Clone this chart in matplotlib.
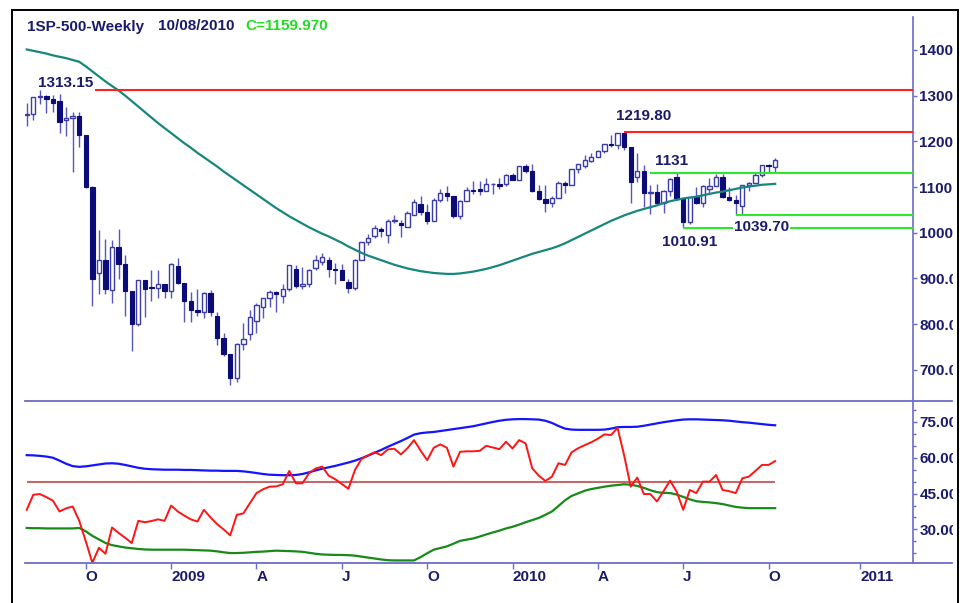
import matplotlib
matplotlib.use("Agg")
import matplotlib.pyplot as plt
from matplotlib.lines import Line2D
from matplotlib.patches import Rectangle
from matplotlib.ticker import FixedLocator, MultipleLocator, FormatStrFormatter
import numpy as np
import pandas as pd

plt.rcParams['font.family'] = ['Liberation Sans', 'DejaVu Sans']
plt.rcParams['font.weight'] = 'bold'

# weekly bars, week ending Fridays, first bar 2008-08-01
first_week = '2008-08-01'

opens = [1257.8, 1260.3, 1296.3, 1298.2, 1292.2, 1287.8, 1246.0, 1251.7, 1255.1, 1213.3,
         1099.2, 912.8, 940.6, 874.3, 968.8, 931.0, 873.3, 800.0, 896.2, 882.0,
         879.7, 887.9, 872.8, 927.5, 890.4, 850.1, 832.0, 825.9, 868.6, 818.0,
         770.1, 735.1, 683.4, 756.6, 778.0, 806.0, 838.0, 856.6, 869.6, 862.0,
         877.5, 920.0, 882.9, 887.0, 923.0, 937.0, 940.0, 921.2, 919.0, 893.0,
         879.1, 940.4, 979.3, 992.0, 1008.0, 995.0, 1026.1, 1022.0, 1013.0, 1039.0,
         1062.0, 1044.4, 1025.2, 1071.5, 1088.0, 1079.6, 1036.2, 1069.3, 1093.5, 1095.0,
         1091.5, 1106.0, 1106.4, 1106.0, 1126.5, 1115.1, 1145.0, 1136.0, 1091.8, 1073.9,
         1066.2, 1075.5, 1109.2, 1104.5, 1138.7, 1147.0, 1156.0, 1165.0, 1178.1, 1194.4,
         1192.1, 1217.3, 1186.7, 1121.0, 1135.7, 1087.7, 1089.4, 1064.9, 1091.6, 1121.0,
         1076.8, 1022.6, 1078.0, 1064.9, 1095.0, 1101.6, 1121.6, 1079.3, 1071.7, 1058.0,
         1104.5, 1109.6, 1125.6, 1148.7, 1144.0]

highs = [1284.0, 1297.0, 1313.2, 1300.7, 1300.7, 1303.0, 1274.4, 1265.0, 1264.0, 1213.3,
         1102.0, 1006.9, 985.4, 984.4, 1007.5, 951.4, 873.3, 896.3, 896.2, 918.9,
         918.9, 887.9, 934.7, 943.9, 890.4, 871.2, 877.9, 870.8, 875.0, 826.8,
         780.1, 735.1, 758.3, 803.0, 832.0, 845.6, 858.4, 875.6, 871.8, 888.7,
         930.2, 930.2, 924.6, 920.0, 951.7, 956.2, 946.2, 934.9, 931.9, 898.7,
         943.0, 979.4, 996.7, 1018.0, 1013.1, 1029.6, 1039.5, 1028.9, 1048.2, 1074.8,
         1080.2, 1063.4, 1076.6, 1096.6, 1101.4, 1081.0, 1072.0, 1101.2, 1113.7, 1112.4,
         1119.1, 1107.8, 1119.1, 1129.2, 1130.4, 1145.4, 1150.4, 1150.5, 1103.7, 1104.7,
         1080.0, 1112.4, 1112.4, 1139.0, 1150.0, 1169.2, 1174.9, 1181.4, 1194.7, 1213.9,
         1217.3, 1219.8, 1188.6, 1173.6, 1148.7, 1104.0, 1105.7, 1094.6, 1119.0, 1131.2,
         1076.8, 1078.2, 1099.1, 1103.7, 1120.9, 1128.8, 1129.2, 1100.1, 1081.6, 1105.1,
         1110.9, 1131.5, 1148.9, 1151.4, 1163.0]

lows = [1234.4, 1247.3, 1282.7, 1261.0, 1263.8, 1217.2, 1212.1, 1133.5, 1187.0, 1098.0,
        839.8, 865.8, 865.6, 845.3, 899.7, 818.7, 741.0, 797.0, 815.7, 851.4,
        857.0, 857.1, 857.3, 888.3, 804.3, 804.3, 818.3, 812.8, 818.4, 754.1,
        731.4, 666.8, 672.9, 742.8, 764.9, 779.8, 814.5, 836.9, 826.8, 847.1,
        872.8, 878.9, 876.8, 880.3, 919.1, 929.1, 903.8, 888.9, 896.4, 869.3,
        875.3, 940.4, 972.2, 987.5, 990.0, 978.5, 1021.0, 991.0, 1013.0, 1039.0,
        1039.3, 1020.2, 1025.2, 1066.7, 1070.5, 1033.4, 1029.4, 1069.3, 1085.0, 1083.7,
        1091.5, 1085.9, 1095.8, 1102.5, 1114.8, 1115.1, 1131.4, 1090.2, 1071.6, 1044.5,
        1056.5, 1075.5, 1086.0, 1104.5, 1131.4, 1141.2, 1155.0, 1165.0, 1175.5, 1186.8,
        1183.7, 1181.6, 1065.8, 1110.0, 1055.9, 1040.8, 1060.0, 1042.2, 1081.0, 1071.6,
        1010.9, 1018.4, 1063.3, 1056.9, 1088.0, 1101.6, 1076.6, 1069.4, 1039.7, 1040.9,
        1091.2, 1109.6, 1122.8, 1131.9, 1131.0]

closes = [1260.3, 1296.3, 1298.2, 1292.2, 1282.8, 1242.3, 1251.7, 1255.1, 1213.3, 1099.2,
          899.2, 940.6, 876.8, 968.8, 931.0, 873.3, 800.0, 896.2, 876.1, 879.7,
          887.9, 872.8, 931.8, 890.4, 850.1, 832.0, 825.9, 868.6, 826.8, 770.1,
          735.1, 683.4, 756.6, 768.5, 815.9, 842.5, 856.6, 869.6, 866.2, 877.5,
          929.2, 882.9, 887.0, 919.1, 940.1, 946.2, 921.2, 918.9, 896.4, 879.1,
          940.4, 979.3, 987.5, 1010.5, 1004.1, 1026.1, 1028.9, 1016.4, 1042.7, 1068.3,
          1044.4, 1025.2, 1071.5, 1087.7, 1079.6, 1036.2, 1069.3, 1093.5, 1091.4, 1091.5,
          1106.0, 1106.4, 1102.5, 1126.5, 1115.1, 1145.0, 1136.0, 1091.8, 1073.9, 1066.2,
          1075.5, 1109.2, 1104.5, 1138.7, 1150.0, 1159.9, 1166.6, 1178.1, 1194.4, 1192.1,
          1217.3, 1186.7, 1110.9, 1135.7, 1087.7, 1089.4, 1064.9, 1091.6, 1117.5, 1076.8,
          1022.6, 1078.0, 1064.9, 1102.7, 1101.6, 1121.6, 1079.3, 1071.7, 1064.6, 1104.5,
          1109.6, 1125.6, 1148.7, 1146.2, 1159.97]

# long moving average drawn over the candles
mov_avg = [1401, 1398, 1395, 1392, 1388, 1385, 1382, 1378, 1374, 1364,
           1353, 1342, 1331, 1321, 1311, 1300, 1288, 1276, 1264, 1252,
           1240, 1229, 1218, 1207, 1196, 1186, 1175, 1165, 1155, 1145,
           1134, 1124, 1114, 1104, 1094, 1084, 1074, 1064, 1054, 1045,
           1036, 1028, 1020, 1012, 1005, 998, 992, 985, 978, 970,
           963, 956, 950, 945, 940, 935, 930, 926, 922, 919,
           916, 914, 912, 911, 910, 910, 911, 913, 915, 918,
           921, 925, 929, 934, 939, 944, 949, 954, 958, 962,
           966, 971, 977, 984, 991, 998, 1005, 1012, 1019, 1026,
           1032, 1038, 1043, 1048, 1052, 1056, 1060, 1065, 1069, 1072,
           1075, 1077, 1079, 1082, 1085, 1088, 1090, 1093, 1096, 1099,
           1101, 1103, 1105, 1106, 1107]

# lower panel: oscillator and its bands
osc = [38.2, 44.5, 44.8, 43.5, 42.0, 37.5, 38.8, 39.6, 33.6, 25.0,
       16.0, 22.3, 19.8, 30.8, 28.5, 26.5, 24.3, 33.6, 33.0, 33.5,
       34.2, 33.6, 40.0, 37.5, 35.8, 34.2, 33.3, 38.2, 35.0, 32.2,
       30.0, 27.5, 36.1, 36.7, 41.0, 45.2, 46.8, 47.9, 48.0, 48.9,
       54.5, 49.3, 49.3, 53.5, 55.5, 56.3, 52.5, 51.0, 49.0, 47.0,
       54.9, 59.5, 61.0, 62.3, 61.1, 63.5, 63.8, 61.4, 64.0, 67.4,
       63.0, 59.0, 64.2, 65.6, 64.2, 56.3, 62.5, 62.7, 62.7, 62.9,
       65.0, 64.3, 63.6, 66.7, 63.9, 67.4, 66.0, 55.6, 52.5, 50.3,
       52.1, 57.7, 57.0, 62.3, 64.0, 65.3, 66.5, 68.0, 69.8, 69.5,
       72.5, 61.0, 47.9, 51.7, 44.8, 44.8, 41.7, 46.0, 50.4, 45.8,
       38.2, 46.5, 45.2, 50.0, 50.0, 52.8, 46.5, 46.0, 45.2, 51.4,
       52.1, 54.5, 57.0, 57.0, 58.6]

band_hi = [61.1, 61.0, 60.8, 60.5, 60.0, 58.8, 57.5, 56.5, 56.2, 56.4,
           56.8, 57.2, 57.6, 57.7, 57.5, 57.0, 56.4, 55.8, 55.4, 55.2,
           55.1, 55.0, 55.0, 55.0, 54.9, 54.9, 54.8, 54.7, 54.6, 54.6,
           54.5, 54.5, 54.5, 54.3, 54.0, 53.6, 53.2, 52.9, 52.8, 52.7,
           52.7, 52.8, 53.2, 53.9, 54.7, 55.4, 56.0, 56.6, 57.3, 58.0,
           58.8, 59.8, 60.9, 62.1, 63.3, 64.6, 65.8, 67.0, 68.3, 69.7,
           70.3, 70.6, 70.8, 71.2, 71.6, 72.0, 72.4, 72.8, 73.2, 73.8,
           74.4, 75.0, 75.5, 75.9, 76.1, 76.2, 76.2, 76.1, 76.0, 75.5,
           74.6, 73.3, 72.2, 71.8, 71.7, 71.7, 71.7, 71.7, 71.8, 72.2,
           72.8, 72.9, 72.9, 73.0, 73.4, 73.9, 74.4, 74.9, 75.3, 75.7,
           76.0, 76.1, 76.1, 76.0, 75.9, 75.8, 75.7, 75.5, 75.2, 74.9,
           74.7, 74.4, 74.1, 73.8, 73.6]

band_lo = [30.6, 30.5, 30.5, 30.4, 30.4, 30.4, 30.4, 30.4, 30.6, 29.2,
           27.3, 25.8, 24.3, 23.4, 22.9, 22.4, 22.1, 21.8, 21.6, 21.5,
           21.5, 21.5, 21.5, 21.5, 21.5, 21.4, 21.3, 21.2, 21.1, 20.8,
           20.4, 20.1, 20.1, 20.2, 20.4, 20.6, 20.7, 20.9, 21.1, 21.0,
           20.9, 20.8, 20.6, 20.2, 19.8, 19.5, 19.4, 19.3, 19.3, 19.2,
           19.0, 18.6, 18.2, 17.8, 17.4, 17.1, 17.0, 17.0, 17.0, 17.0,
           18.4, 20.0, 21.5, 22.2, 22.9, 24.0, 25.2, 25.7, 26.2, 27.0,
           27.9, 28.7, 29.5, 30.4, 31.1, 32.0, 33.0, 33.9, 34.8, 36.1,
           37.5, 39.8, 42.2, 44.0, 45.1, 46.2, 46.9, 47.4, 47.9, 48.3,
           48.6, 48.9, 48.7, 48.2, 47.4, 46.4, 45.6, 45.3, 45.2, 44.6,
           43.6, 42.6, 41.8, 41.5, 41.3, 41.0, 40.6, 40.0, 39.4, 39.1,
           38.9, 38.9, 38.9, 38.9, 38.9]
osc_mid = 50

# hand drawn support / resistance lines
levels = [1313.15, 1219.80, 1131.00, 1039.70, 1010.91]
level_text = ['1313.15', '1219.80', '1131', '1039.70', '1010.91']
level_colors = ['#ff2020', '#ff2020', '#2ee82e', '#2ee82e', '#2ee82e']
level_start = [10.4, 91, 95, 108, 100]     # bar where each line begins
label_bar = [2, 90, 96, 108, 97]           # bar where each label begins
label_dy = [7, 16, 12, -12.5, -14]         # pixels above (+) / below (-) line

tick_months = ['2008-10-01', '2009-01-01', '2009-04-01', '2009-07-01', '2009-10-01',
               '2010-01-01', '2010-04-01', '2010-07-01', '2010-10-01', '2011-01-01']
tick_labels = ['O', '2009', 'A', 'J', 'O', '2010', 'A', 'J', 'O', '2011']
price_ticks = [700, 800, 900, 1000, 1100, 1200, 1300, 1400]
osc_ticks = [30, 45, 60, 75]

NAVY = '#1b1b6b'
AXIS = '#6b6bc8'
FS = 11
W, H = 963, 603


def fx(px):
    return px / W


def fy(py):
    return 1 - py / H


def draw_candles(ax, x, o, h, l, c):
    o, h, l, c = map(np.asarray, (o, h, l, c))
    up = c >= o
    ax.vlines(x, l, h, color='#5656bb', lw=1.0, zorder=2)
    bottom = np.minimum(o, c)
    height = np.maximum(np.abs(c - o), 0.5)
    ax.bar(x[up], height[up], bottom=bottom[up], width=0.66, facecolor='white',
           edgecolor='#3c3ca8', linewidth=1.0, zorder=3)
    ax.bar(x[~up], height[~up], bottom=bottom[~up], width=0.66, facecolor='#0c0c78',
           edgecolor='#0c0c78', linewidth=0.8, zorder=3)


def main():
    n = len(closes)
    x = np.arange(n)
    xlim = (-0.26, 135.0)

    fig = plt.figure(figsize=(W / 100, H / 100), dpi=100)
    ax1 = fig.add_axes([fx(25), fy(401), fx(913) - fx(25), fy(17) - fy(401)])
    ax2 = fig.add_axes([fx(25), fy(563.3), fx(913) - fx(25), fy(400.7) - fy(563.3)])

    # --- price panel
    draw_candles(ax1, x, opens, highs, lows, closes)
    ax1.plot(x, mov_avg, color='#17877d', lw=1.6, zorder=4)
    for lev, txt, col, xs, xb, dy in zip(levels, level_text, level_colors,
                                         level_start, label_bar, label_dy):
        ax1.hlines(lev, xs, xlim[1], color=col, lw=1.5, zorder=5)
        bbox = dict(facecolor='white', edgecolor='none', pad=0.5) if dy < 0 and xb > 100 else None
        ax1.annotate(txt, xy=(xb - 0.3, lev), xytext=(0, dy), textcoords='offset pixels',
                     ha='left', va='center', color=NAVY, fontsize=FS, zorder=6, bbox=bbox)

    ax1.set_xlim(*xlim)
    ax1.set_ylim(632, 1472)
    ax1.yaxis.tick_right()
    ax1.yaxis.set_major_locator(FixedLocator(price_ticks))
    ax1.yaxis.set_major_formatter(FormatStrFormatter('%.1f'))
    ax1.tick_params(axis='y', direction='out', length=3, width=1, color=AXIS,
                    labelcolor=NAVY, labelsize=FS, pad=1.5)
    ax1.tick_params(axis='x', bottom=False, labelbottom=False)
    for s in ['left', 'top', 'bottom']:
        ax1.spines[s].set_visible(False)
    ax1.spines['right'].set_color(AXIS)
    ax1.spines['right'].set_linewidth(1.2)

    # --- oscillator panel
    ax2.hlines(osc_mid, 0, n - 1, color='#c06a6a', lw=1.5, zorder=2)
    ax2.plot(x, band_hi, color='#1414ff', lw=1.6, zorder=3)
    ax2.plot(x, band_lo, color='#178a17', lw=1.6, zorder=3)
    ax2.plot(x, osc, color='#ff1414', lw=1.4, zorder=4)

    ax2.set_xlim(*xlim)
    ax2.set_ylim(15.8, 83.9)
    ax2.yaxis.tick_right()
    ax2.yaxis.set_major_locator(FixedLocator(osc_ticks))
    ax2.yaxis.set_minor_locator(MultipleLocator(5))
    ax2.yaxis.set_major_formatter(FormatStrFormatter('%.2f'))
    ax2.tick_params(axis='y', which='major', direction='out', length=3, width=1,
                    color=AXIS, labelcolor=NAVY, labelsize=FS, pad=1.5)
    ax2.tick_params(axis='y', which='minor', direction='out', length=2.5, width=1,
                    color=AXIS)

    fridays = pd.date_range(first_week, periods=140, freq='7D')
    tick_pos = fridays.searchsorted(pd.to_datetime(tick_months))
    ax2.set_xticks(tick_pos)
    ax2.set_xticklabels(tick_labels, ha='left')
    ax2.tick_params(axis='x', direction='out', length=4.5, width=1, color=AXIS,
                    labelcolor=NAVY, labelsize=FS, pad=0.5)
    for s in ['left', 'top', 'bottom']:
        ax2.spines[s].set_visible(False)
    ax2.spines['right'].set_color(AXIS)
    ax2.spines['right'].set_linewidth(1.2)

    # panel borders of the oscillator pane run past the scale
    for yy in (400.7, 563.3):
        fig.add_artist(Line2D([fx(25), fx(952)], [fy(yy), fy(yy)], color=AXIS, lw=1.3, zorder=6))

    # clip the scale labels short of the outer frame
    fig.add_artist(Rectangle((fx(953), 0), 1 - fx(953), 1, transform=fig.transFigure,
                             facecolor='white', edgecolor='none', zorder=7))
    frame = dict(color='black', lw=1.4, zorder=8)
    fig.add_artist(Line2D([fx(12), fx(957.5)], [fy(10), fy(10)], **frame))
    fig.add_artist(Line2D([fx(12), fx(12)], [fy(10), 0], **frame))
    fig.add_artist(Line2D([fx(957.5), fx(957.5)], [fy(10), 0], **frame))

    # header
    fig.text(fx(27), fy(26.5), '1SP-500-Weekly', color=NAVY, fontsize=FS, va='center')
    fig.text(fx(158), fy(26.5), '10/08/2010', color=NAVY, fontsize=FS, va='center')
    fig.text(fx(245), fy(26.5), 'C=%.3f' % closes[-1], color='#22dd22', fontsize=FS,
             va='center')

    fig.savefig('out.png', dpi=100)


if __name__ == "__main__":
    main()
